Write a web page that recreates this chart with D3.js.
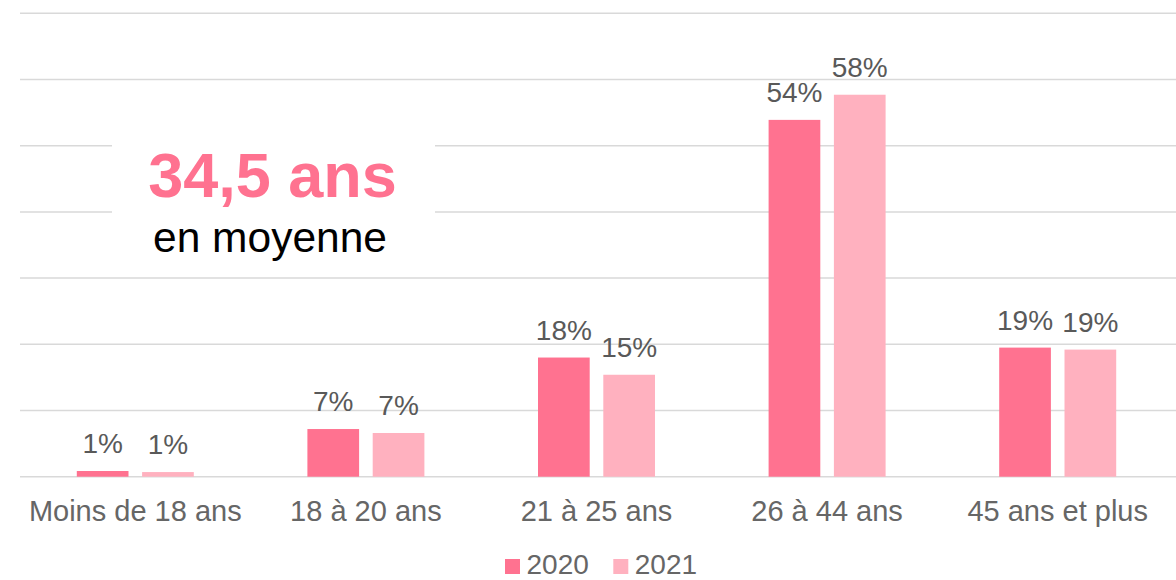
<!DOCTYPE html>
<html>
<head>
<meta charset="utf-8">
<script src="https://cdn.jsdelivr.net/npm/d3@7"></script>
<style>
  body { margin: 0; background: #fff; }
  svg { display: block; font-family: "Liberation Sans", Arial, sans-serif; }
</style>
</head>
<body>
<svg width="1176" height="580"></svg>
<script>
// data
const categories = ["Moins de 18 ans", "18 à 20 ans", "21 à 25 ans", "26 à 44 ans", "45 ans et plus"]
const years = ["2020", "2021"]
const values2020 = [0.86, 7.2, 18.0, 53.9, 19.5]
const values2021 = [0.7, 6.6, 15.4, 57.7, 19.2]
const labels2020 = ["1%", "7%", "18%", "54%", "19%"]
const labels2021 = ["1%", "7%", "15%", "58%", "19%"]
const yTicks = [0, 10, 20, 30, 40, 50, 60, 70]
const colors = ["#ff7290", "#ffb1bf"]

const svg = d3.select("svg")
const plotLeft = 20, plotRight = 1173, plotTop = 13.3, plotBottom = 476.7

const x = d3.scaleBand().domain(categories).range([plotLeft, plotRight])
const y = d3.scaleLinear().domain([0, 70]).range([plotBottom, plotTop])
const barW = 51.7, gap = 13.6

// gridlines
svg.append("g").selectAll("line")
  .data(yTicks)
  .enter().append("line")
    .attr("x1", plotLeft).attr("x2", 1176)
    .attr("y1", d => y(d)).attr("y2", d => y(d))
    .attr("stroke", "#d9d9d9")
    .attr("stroke-width", 1.5)

const series = [
  {year: years[0], values: values2020, labels: labels2020, color: colors[0], off: -gap / 2 - barW},
  {year: years[1], values: values2021, labels: labels2021, color: colors[1], off: gap / 2}
]

series.forEach(s => {
  const g = svg.append("g")
  g.selectAll("rect")
    .data(categories)
    .enter().append("rect")
      .attr("x", c => x(c) + x.bandwidth() / 2 + s.off)
      .attr("y", (c, i) => y(s.values[i]))
      .attr("width", barW)
      .attr("height", (c, i) => plotBottom - y(s.values[i]))
      .attr("fill", s.color)
  g.selectAll("text")
    .data(categories)
    .enter().append("text")
      .attr("x", c => x(c) + x.bandwidth() / 2 + s.off + barW / 2)
      .attr("y", (c, i) => y(s.values[i]) - 18)
      .attr("text-anchor", "middle")
      .attr("font-size", 28)
      .attr("fill", "#595959")
      .text((c, i) => s.labels[i])
})

// x axis labels
svg.append("g").selectAll("text")
  .data(categories)
  .enter().append("text")
    .attr("x", c => x(c) + x.bandwidth() / 2)
    .attr("y", 521)
    .attr("text-anchor", "middle")
    .attr("font-size", 29)
    .attr("fill", "#666")
    .text(c => c)

// legend
const legend = svg.append("g")
const legendX = [505, 613.3]
series.forEach((s, i) => {
  legend.append("rect")
    .attr("x", legendX[i]).attr("y", 559)
    .attr("width", 15).attr("height", 15)
    .attr("fill", s.color)
  legend.append("text")
    .attr("x", legendX[i] + 21.5).attr("y", 574)
    .attr("font-size", 28)
    .attr("fill", "#666")
    .text(s.year)
})

// average annotation
svg.append("rect")
  .attr("x", 112).attr("y", 130)
  .attr("width", 323).attr("height", 135)
  .attr("fill", "#fff")
svg.append("text")
  .attr("x", 272.5).attr("y", 197)
  .attr("text-anchor", "middle")
  .attr("font-size", 63)
  .attr("font-weight", "bold")
  .attr("fill", colors[0])
  .text("34,5 ans")
svg.append("text")
  .attr("x", 270).attr("y", 252)
  .attr("text-anchor", "middle")
  .attr("font-size", 42.5)
  .attr("fill", "#000")
  .text("en moyenne")
</script>
</body>
</html>
